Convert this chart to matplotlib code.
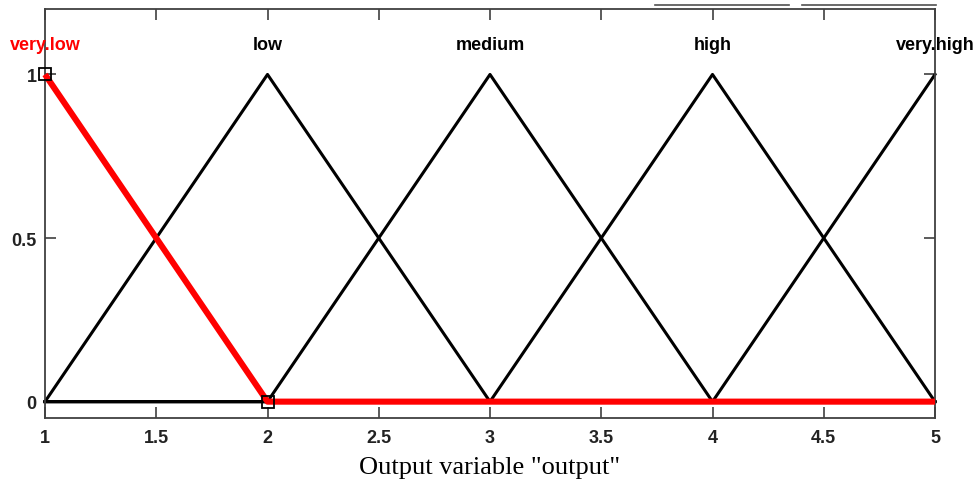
import numpy as np
import matplotlib.pyplot as plt
from matplotlib.lines import Line2D

# membership functions of the output variable (breakpoints inside the range 1..5)
mf_names = ["very.low", "low", "medium", "high", "very.high"]
mf_peaks = [1, 2, 3, 4, 5]
mf_x = [
    [1, 2, 5],
    [1, 2, 3, 5],
    [1, 2, 3, 4, 5],
    [1, 3, 4, 5],
    [1, 4, 5],
]
mf_y = [
    [1, 0, 0],
    [0, 1, 0, 0],
    [0, 0, 1, 0, 0],
    [0, 0, 1, 0],
    [0, 0, 1],
]
selected = 0
sel_handles_x = [1, 2]
sel_handles_y = [1, 0]

x_ticks = [1, 1.5, 2, 2.5, 3, 3.5, 4, 4.5, 5]
y_ticks = [0, 0.5, 1]

fig = plt.figure(figsize=(9.76, 4.81), dpi=100)
ax = fig.add_axes([45 / 976, 1 - 419 / 481, 890 / 976, 409 / 481])

for i in range(len(mf_names)):
    if i == selected:
        continue
    ax.plot(mf_x[i], mf_y[i], color="black", lw=2.2, zorder=2, clip_on=False)
ax.plot(mf_x[selected], mf_y[selected], color="#ff0000", lw=4.4, zorder=3,
        solid_capstyle="butt", clip_on=False)
ax.plot(sel_handles_x, sel_handles_y, ls="none", marker="s", ms=8,
        mfc="none", mec="black", mew=1.3, zorder=4, clip_on=False)

for i, name in enumerate(mf_names):
    ax.text(mf_peaks[i], 1.09, name, ha="center", va="center",
            fontsize=13, fontweight="bold", family="Liberation Sans",
            color="#ff0000" if i == selected else "black")

ax.set_xlim(1, 5)
ax.set_ylim(-0.05, 1.2)
ax.set_xticks(x_ticks)
ax.set_xticklabels([f"{v:g}" for v in x_ticks])
ax.set_yticks(y_ticks)
ax.set_yticklabels([f"{v:g}" for v in y_ticks])
ax.tick_params(direction="in", length=8, width=1.2, color="#404040",
               top=True, right=True, labelsize=13, labelcolor="#222222")
ax.tick_params(axis="x", pad=8)
ax.tick_params(axis="y", pad=6)
for lab in ax.get_xticklabels() + ax.get_yticklabels():
    lab.set_fontweight("bold")
    lab.set_family("Liberation Sans")
for sp in ax.spines.values():
    sp.set_linewidth(1.3)
    sp.set_color("#404040")

ax.set_xlabel('Output variable "output"', family="Liberation Serif",
              fontsize=19, labelpad=7)

# stray rule lines above the frame
fig.add_artist(Line2D([655 / 976, 789 / 976], [1 - 5.5 / 481] * 2,
                      color="#505050", lw=1.2))
fig.add_artist(Line2D([802 / 976, 936 / 976], [1 - 5.5 / 481] * 2,
                      color="#505050", lw=1.2))

fig.savefig("out.png", dpi=100)
